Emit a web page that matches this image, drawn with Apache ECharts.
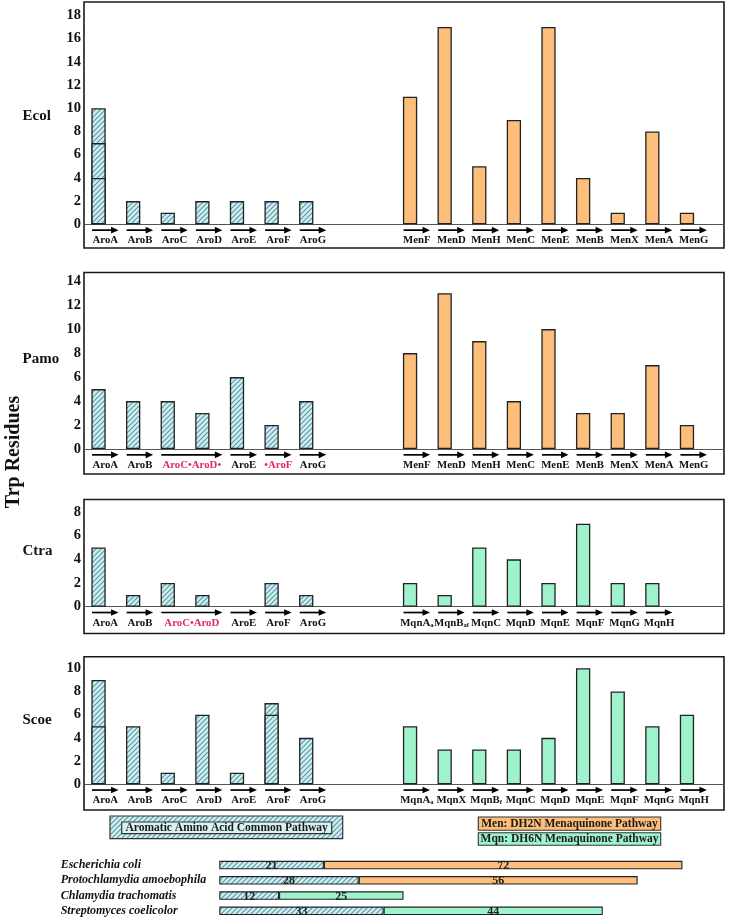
<!DOCTYPE html>
<html>
<head>
<meta charset="utf-8">
<script src="https://cdn.jsdelivr.net/npm/echarts@6.0.0/dist/echarts.min.js"></script>
<style>
html,body{margin:0;padding:0;background:#ffffff;}
#chart{width:730px;height:921px;}
</style>
</head>
<body>
<div id="chart"></div>
<script>
// ================= DATA =================
const aroLabels = ['AroA','AroB','AroC','AroD','AroE','AroF','AroG'];
const menLabels = ['MenF','MenD','MenH','MenC','MenE','MenB','MenX','MenA','MenG'];

// Ecol (domain segments for each Aro protein, bottom to top)
const ecolAroSegments = [[4,3,3],[2],[1],[2],[2],[2],[2]];
const ecolMen = [11,17,5,9,17,4,1,8,1];
const ecolAroArrowLabels = ['AroA','AroB','AroC','AroD','AroE','AroF','AroG'];
const ecolAroArrowSpans = [[0,0],[1,1],[2,2],[3,3],[4,4],[5,5],[6,6]];
const ecolAroArrowHighlight = [0,0,0,0,0,0,0];
const ecolTicks = [0,2,4,6,8,10,12,14,16,18];

// Pamo
const pamoAroSegments = [[5],[4],[4],[3],[6],[2],[4]];
const pamoMen = [8,13,9,4,10,3,3,7,2];
const pamoAroArrowLabels = ['AroA','AroB','AroC\u2022AroD\u2022','AroE','\u2022AroF','AroG'];
const pamoAroArrowSpans = [[0,0],[1,1],[2,3],[4,4],[5,5],[6,6]];
const pamoAroArrowHighlight = [0,0,1,0,1,0];
const pamoTicks = [0,2,4,6,8,10,12,14];

// Ctra
const ctraAroSegments = [[5],[1],[2],[1],[0],[2],[1]];
const ctraMqnLabels = ['MqnA_a','MqnB_af','MqnC','MqnD','MqnE','MqnF','MqnG','MqnH'];
const ctraMqn = [2,1,5,4,2,7,2,2];
const ctraAroArrowLabels = ['AroA','AroB','AroC\u2022AroD','AroE','AroF','AroG'];
const ctraAroArrowSpans = [[0,0],[1,1],[2,3],[4,4],[5,5],[6,6]];
const ctraAroArrowHighlight = [0,0,1,0,0,0];
const ctraTicks = [0,2,4,6,8];

// Scoe
const scoeAroSegments = [[5,4],[5],[1],[6],[1],[6,1],[4]];
const scoeMqnLabels = ['MqnA_a','MqnX','MqnB_f','MqnC','MqnD','MqnE','MqnF','MqnG','MqnH'];
const scoeMqn = [5,3,3,3,4,10,8,5,6];
const scoeAroArrowLabels = ['AroA','AroB','AroC','AroD','AroE','AroF','AroG'];
const scoeAroArrowSpans = [[0,0],[1,1],[2,2],[3,3],[4,4],[5,5],[6,6]];
const scoeAroArrowHighlight = [0,0,0,0,0,0,0];
const scoeTicks = [0,2,4,6,8,10];

// Summary (Trp residues per pathway)
const species = ['Escherichia coli','Protochlamydia amoebophila','Chlamydia trachomatis','Streptomyces coelicolor'];
const aroTotals = [21,28,12,33];
const menTotals = [72,56,0,0];
const mqnTotals = [0,0,25,44];

// ================= STYLE / LAYOUT =================
const ORANGE = '#fdbd7b';
const MINT = '#9ef3cd';
const HATCH_BG = '#cfeef1';
const HATCH_FG = '#5a98a3';
const RED = '#e0276c';
const EDGE = '#222';
const SERIF = '"Liberation Serif", "Times New Roman", serif';
const RIGHT_START = 9; // category slot of first Men/Mqn protein

function makeHatch() {
  const n = 5;
  const c = document.createElement('canvas');
  c.width = n; c.height = n;
  const g = c.getContext('2d');
  g.fillStyle = HATCH_BG; g.fillRect(0, 0, n, n);
  g.strokeStyle = HATCH_FG; g.lineWidth = 1.1;
  g.beginPath();
  g.moveTo(-1, n + 1); g.lineTo(n + 1, -1);
  g.moveTo(-1, 1); g.lineTo(1, -1);
  g.moveTo(n - 1, n + 1); g.lineTo(n + 1, n - 1);
  g.stroke();
  return c;
}
const hatch = { image: makeHatch(), repeat: 'repeat' };

const panels = [
  { name: 'Ecol', nameY: 116, top: 2, height: 246, yMin: -2.04, yMax: 19.16, ticks: ecolTicks,
    aro: ecolAroSegments, right: ecolMen, rightLabels: menLabels, rightColor: ORANGE,
    arrowLabels: ecolAroArrowLabels, arrowSpans: ecolAroArrowSpans, arrowHi: ecolAroArrowHighlight },
  { name: 'Pamo', nameY: 359, top: 272.5, height: 201.5, yMin: -2.08, yMax: 14.72, ticks: pamoTicks,
    aro: pamoAroSegments, right: pamoMen, rightLabels: menLabels, rightColor: ORANGE,
    arrowLabels: pamoAroArrowLabels, arrowSpans: pamoAroArrowSpans, arrowHi: pamoAroArrowHighlight },
  { name: 'Ctra', nameY: 551, top: 499.5, height: 134, yMin: -2.26, yMax: 9.05, ticks: ctraTicks,
    aro: ctraAroSegments, right: ctraMqn, rightLabels: ctraMqnLabels, rightColor: MINT,
    arrowLabels: ctraAroArrowLabels, arrowSpans: ctraAroArrowSpans, arrowHi: ctraAroArrowHighlight },
  { name: 'Scoe', nameY: 720, top: 656.7, height: 153.3, yMin: -2.22, yMax: 11.0, ticks: scoeTicks,
    aro: scoeAroSegments, right: scoeMqn, rightLabels: scoeMqnLabels, rightColor: MINT,
    arrowLabels: scoeAroArrowLabels, arrowSpans: scoeAroArrowSpans, arrowHi: scoeAroArrowHighlight }
];

const grids = [], xAxes = [], yAxes = [], series = [], graphics = [];
const BAR_W = 14.3;

function richLabel(txt) {
  const p = txt.split('_');
  if (p.length === 1) return '{m|' + txt + '}';
  return '{m|' + p[0] + '}{s|' + p[1] + '}';
}

panels.forEach((p, k) => {
  grids.push({ left: 84, right: 6, top: p.top, height: p.height, show: true,
    borderColor: '#1a1a1a', borderWidth: 1.6, backgroundColor: 'transparent', containLabel: false });
  xAxes.push({ gridIndex: k, type: 'value', min: -0.42, max: 18.07,
    axisLine: { show: true, onZero: true, lineStyle: { color: '#555', width: 1 } },
    axisTick: { show: false }, axisLabel: { show: false }, splitLine: { show: false } });
  yAxes.push({ gridIndex: k, type: 'value', min: p.yMin, max: p.yMax,
    axisLine: { show: false }, axisTick: { show: false }, splitLine: { show: false },
    axisLabel: { show: true, customValues: p.ticks, margin: 3, color: '#111',
      fontFamily: SERIF, fontWeight: 'bold', fontSize: 14.5 } });

  // Aro bars (cumulative domain tops, drawn tallest first)
  const cum = p.aro.map(s => { let a = 0; return s.map(v => (a += v)); });
  const maxLen = Math.max.apply(null, p.aro.map(s => s.length));
  const aroStyle = { color: hatch, borderColor: EDGE, borderWidth: 1.3 };
  series.push({ type: 'bar', xAxisIndex: k, yAxisIndex: k, barWidth: BAR_W, barGap: '-100%',
    itemStyle: aroStyle, silent: true,
    data: cum.map((c, i) => [i, c[c.length - 1] === 0 ? '-' : c[c.length - 1]]) });
  for (let j = maxLen - 2; j >= 0; j--) {
    series.push({ type: 'bar', xAxisIndex: k, yAxisIndex: k, barWidth: BAR_W, barGap: '-100%',
      itemStyle: aroStyle, silent: true,
      data: cum.map((c, i) => [i, c.length > j + 1 ? c[j] : '-']) });
  }
  // Men / Mqn bars
  series.push({ type: 'bar', xAxisIndex: k, yAxisIndex: k, barWidth: BAR_W, barGap: '-100%',
    itemStyle: { color: p.rightColor, borderColor: EDGE, borderWidth: 1.3 }, silent: true,
    data: p.right.map((v, i) => [RIGHT_START + i, v === 0 ? '-' : v]) });

  // Gene arrows with labels
  const spans = p.arrowSpans.concat(p.rightLabels.map((_, i) => [RIGHT_START + i, RIGHT_START + i]));
  const labels = p.arrowLabels.concat(p.rightLabels);
  const hi = p.arrowHi.concat(p.rightLabels.map(() => 0));
  series.push({ type: 'custom', xAxisIndex: k, yAxisIndex: k, silent: true, clip: false, z: 5,
    encode: { x: [0, 1], y: 2 },
    data: spans.map(s => [s[0], s[1], 0]),
    renderItem: function (params, api) {
      const s = api.coord([api.value(0), 0]);
      const e = api.coord([api.value(1), 0]);
      const x0 = s[0] - 6.5, x1 = e[0] + 20, y = s[1] + 5.8;
      const idx = params.dataIndex;
      const col = hi[idx] ? RED : '#111';
      return { type: 'group', children: [
        { type: 'line', shape: { x1: x0, y1: y, x2: x1 - 5, y2: y }, style: { stroke: '#000', lineWidth: 1.7 } },
        { type: 'polygon', shape: { points: [[x1 - 7.5, y - 3.3], [x1, y], [x1 - 7.5, y + 3.3]] }, style: { fill: '#000' } },
        { type: 'text', x: (x0 + x1) / 2, y: y + 10.5,
          style: { text: richLabel(labels[idx]), align: 'center', verticalAlign: 'middle',
            fill: col, fontFamily: SERIF, fontWeight: 'bold', fontSize: 11,
            rich: { m: { fontFamily: SERIF, fontWeight: 'bold', fontSize: 10.8, fill: col, color: col },
                    s: { fontFamily: SERIF, fontWeight: 'bold', fontSize: 6.5, fill: col, color: col, verticalAlign: 'bottom', padding: [4, 0, 0, 0] } } } }
      ] };
    } });

  graphics.push({ type: 'text', x: 22.5, y: p.nameY,
    style: { text: p.name, font: 'bold 15px ' + SERIF, fill: '#111', align: 'left', verticalAlign: 'middle',
      textAlign: 'left', textVerticalAlign: 'middle' } });
});

// ===== Summary horizontal bars =====
const g4 = panels.length;
grids.push({ left: 219.3, width: 498, top: 857.4, height: 61, show: false });
xAxes.push({ gridIndex: g4, type: 'value', min: 0, max: 100, show: false });
yAxes.push({ gridIndex: g4, type: 'category', inverse: true, data: species,
  axisLine: { show: false }, axisTick: { show: false },
  axisLabel: { interval: 0, hideOverlap: false, align: 'left', margin: 158.6, color: '#111', fontFamily: SERIF,
    fontStyle: 'italic', fontWeight: 'bold', fontSize: 12 } });
const sumLabel = { show: true, position: 'inside', color: '#222', fontFamily: SERIF, fontWeight: 'bold', fontSize: 12, offset: [0, 1] };
series.push({ type: 'bar', xAxisIndex: g4, yAxisIndex: g4, stack: 'sum', barWidth: 8.5, silent: true,
  itemStyle: { color: hatch, borderColor: EDGE, borderWidth: 1.1 }, label: sumLabel,
  data: aroTotals.map(v => v === 0 ? '-' : v) });
series.push({ type: 'bar', xAxisIndex: g4, yAxisIndex: g4, stack: 'sum', barWidth: 8.5, silent: true,
  itemStyle: { color: ORANGE, borderColor: EDGE, borderWidth: 1.1 }, label: sumLabel,
  data: menTotals.map(v => v === 0 ? '-' : v) });
series.push({ type: 'bar', xAxisIndex: g4, yAxisIndex: g4, stack: 'sum', barWidth: 8.5, silent: true,
  itemStyle: { color: MINT, borderColor: EDGE, borderWidth: 1.1 }, label: sumLabel,
  data: mqnTotals.map(v => v === 0 ? '-' : v) });

// ===== Decorations: y title and legends =====
graphics.push({ type: 'text', x: 14, y: 452, rotation: Math.PI / 2,
  style: { text: 'Trp Residues', font: 'bold 20px ' + SERIF, fill: '#111', align: 'center', verticalAlign: 'middle',
    textAlign: 'center', textVerticalAlign: 'middle' } });
graphics.push({ type: 'rect', shape: { x: 110, y: 816, width: 232.7, height: 22.7 },
  style: { fill: hatch, stroke: '#333', lineWidth: 1.2 } });
graphics.push({ type: 'rect', shape: { x: 121.7, y: 822, width: 210, height: 11.7 },
  style: { fill: '#d8f1f3', stroke: '#333', lineWidth: 1.2 } });
graphics.push({ type: 'text', x: 226.7, y: 828,
  style: { text: 'Aromatic Amino Acid Common Pathway', font: 'bold 11.5px ' + SERIF, fill: '#1a1a1a',
    align: 'center', verticalAlign: 'middle', textAlign: 'center', textVerticalAlign: 'middle' } });
graphics.push({ type: 'rect', shape: { x: 478.3, y: 817, width: 182.4, height: 13.3 },
  style: { fill: ORANGE, stroke: '#333', lineWidth: 1.1 } });
graphics.push({ type: 'text', x: 569.5, y: 823.8,
  style: { text: 'Men: DH2N Menaquinone Pathway', font: 'bold 11.5px ' + SERIF, fill: '#1a1a1a',
    align: 'center', verticalAlign: 'middle', textAlign: 'center', textVerticalAlign: 'middle' } });
graphics.push({ type: 'rect', shape: { x: 478.3, y: 832.7, width: 182.4, height: 12.6 },
  style: { fill: MINT, stroke: '#333', lineWidth: 1.1 } });
graphics.push({ type: 'text', x: 569.5, y: 839.1,
  style: { text: 'Mqn: DH6N Menaquinone Pathway', font: 'bold 11.5px ' + SERIF, fill: '#1a1a1a',
    align: 'center', verticalAlign: 'middle', textAlign: 'center', textVerticalAlign: 'middle' } });

const chart = echarts.init(document.getElementById('chart'), null, { renderer: 'canvas' });
chart.setOption({
  animation: false,
  backgroundColor: '#ffffff',
  grid: grids, xAxis: xAxes, yAxis: yAxes, series: series,
  graphic: { elements: graphics }
});
</script>
</body>
</html>
